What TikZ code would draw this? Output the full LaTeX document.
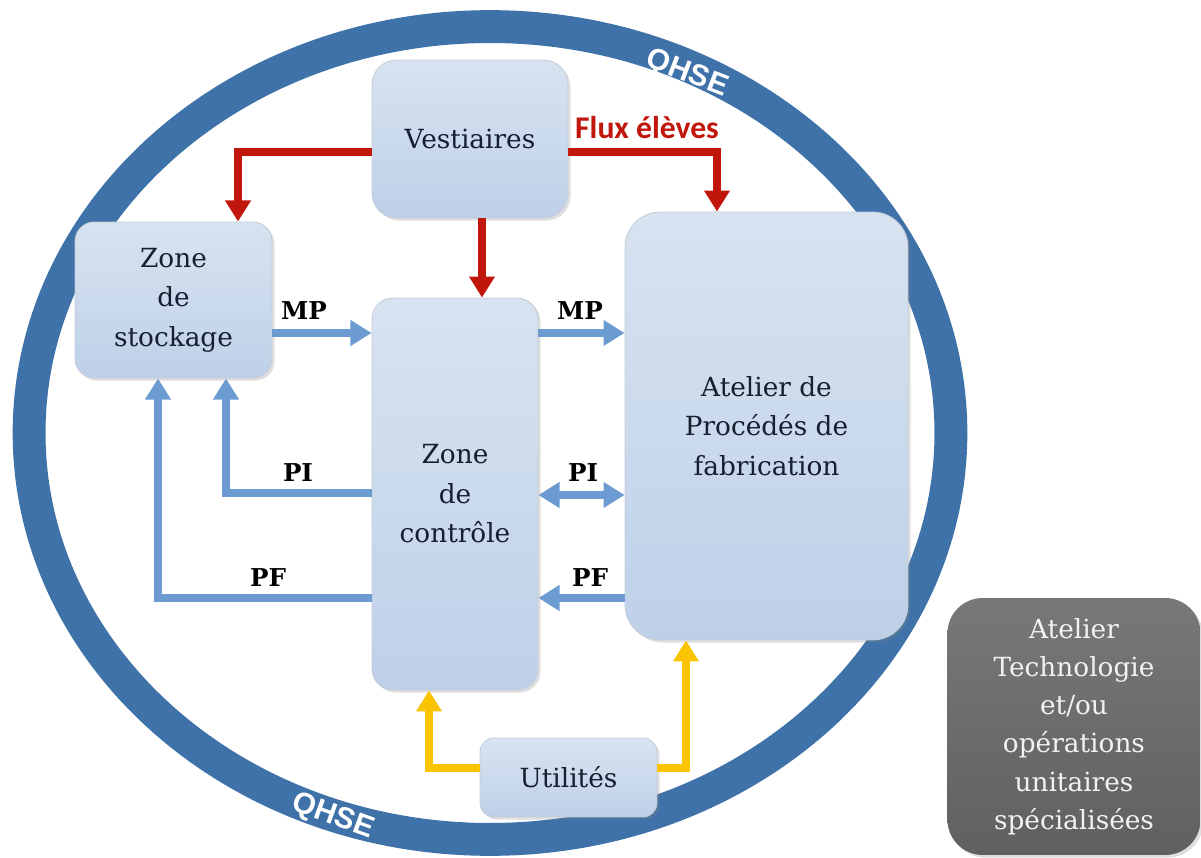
\documentclass[tikz,border=0pt]{standalone}
\usepackage{fontspec}
\setmainfont{DejaVu Serif}
\newfontfamily\carlito{Carlito}
\newfontfamily\lsans{Liberation Sans}
\usetikzlibrary{arrows.meta,shadows,calc}
\definecolor{ringblue}{RGB}{62,114,168}
\definecolor{fluxred}{RGB}{192,22,12}
\definecolor{mpblue}{RGB}{108,155,210}
\definecolor{utilyellow}{RGB}{250,196,0}
\definecolor{boxtop}{RGB}{216,227,241}
\definecolor{boxbot}{RGB}{190,208,232}
\definecolor{boxline}{RGB}{196,204,216}
\definecolor{textdark}{RGB}{22,30,48}
\definecolor{graytop}{RGB}{120,120,120}
\definecolor{graybot}{RGB}{96,96,96}
\definecolor{graytext}{RGB}{242,242,242}
\begin{document}
\begin{tikzpicture}[x=0.02cm,y=-0.02cm,
  bluebox/.style={draw=boxline, line width=0.5pt, top color=boxtop, bottom color=boxbot,
    drop shadow={opacity=0.25, shadow xshift=1.5pt, shadow yshift=-1.5pt},
    align=center, text=textdark, inner sep=0pt, font=\fontsize{15}{22.5}\selectfont},
  graybox/.style={draw=none, top color=graytop, bottom color=graybot,
    drop shadow={opacity=0.25, shadow xshift=1.5pt, shadow yshift=-1.5pt},
    align=center, text=graytext, inner sep=0pt, font=\fontsize{15}{21.8}\selectfont},
  redarr/.style={draw=fluxred, line width=4.5pt, -{Triangle[length=12pt,width=14pt]}},
  bluearr/.style={draw=mpblue, line width=4pt, -{Triangle[length=12pt,width=14pt]}},
  bluedbl/.style={draw=mpblue, line width=4pt, {Triangle[length=12pt,width=14pt]}-{Triangle[length=12pt,width=14pt]}},
  yelarr/.style={draw=utilyellow, line width=4.5pt, -{Triangle[length=12pt,width=14pt]}},
  flowlab/.style={font=\bfseries\fontsize{14}{14}\selectfont, text=black, inner sep=0pt},
  qhse/.style={font=\lsans\bfseries\fontsize{17}{17}\selectfont, text=white, inner sep=0pt}
]
\useasboundingbox (0,0) rectangle (1201,858);
% ring
\draw[ringblue, line width=18.7pt] (490,433) ellipse [x radius=9.22cm, y radius=8.13cm];
\node[qhse, rotate=-21] (q1) at (687,74) {QHSE};
\node[qhse, rotate=-20] (q2) at (333,817) {QHSE};

% boxes
\node[bluebox, rounded corners=14pt, minimum width=3.92cm, minimum height=3.16cm] (vest) at (470,139) {Vestiaires};
\node[bluebox, rounded corners=11pt, minimum width=3.94cm, minimum height=3.12cm] (stock) at (173.5,300) {Zone\\de\\stockage};
\node[bluebox, rounded corners=12pt, minimum width=3.32cm, minimum height=7.84cm] (ctrl) at (455,494) {Zone\\de\\contrôle};
\node[bluebox, rounded corners=20pt, minimum width=5.66cm, minimum height=8.56cm] (atel) at (766.5,426) {Atelier de\\Procédés de\\fabrication};
\node[bluebox, rounded corners=8pt, minimum width=3.54cm, minimum height=1.58cm] (util) at (568.5,777.5) {Utilités};
\node[graybox, rounded corners=20pt, minimum width=5.06cm, minimum height=5.14cm] (gray) at (1074,726.5) {Atelier\\Technologie\\et/ou\\opérations\\unitaires\\spécialisées};

% red arrows
\draw[redarr] (vest.west |- 0,152) -| (stock.north -| 238,0);
\draw[redarr] (vest.east |- 0,152) -| (atel.north -| 717,0);
\draw[redarr] (vest.south -| 482,0) -- (ctrl.north -| 482,0);
\node[font=\carlito\bfseries\fontsize{18}{18}\selectfont, text=fluxred, inner sep=0pt] (flux) at (647,128) {Flux élèves};

% blue arrows
\draw[bluearr] (stock.east |- 0,333) -- (ctrl.west |- 0,333);
\draw[bluearr] (ctrl.east |- 0,333) -- (atel.west |- 0,333);
\draw[bluearr] (ctrl.west |- 0,493) -| (stock.south -| 226,0);
\draw[bluearr] (ctrl.west |- 0,598) -| (stock.south -| 158,0);
\draw[bluedbl] (ctrl.east |- 0,495) -- (atel.west |- 0,495);
\draw[bluearr] (atel.west |- 0,598) -- (ctrl.east |- 0,598);
\node[flowlab] (mp1) at (304,311) {MP};
\node[flowlab] (mp2) at (580,311) {MP};
\node[flowlab] (pi1) at (298,473) {PI};
\node[flowlab] (pf1) at (268,578) {PF};
\node[flowlab] (pi2) at (583,473) {PI};
\node[flowlab] (pf2) at (590,578) {PF};

% yellow arrows
\draw[yelarr] (util.west |- 0,768) -| (ctrl.south -| 429,0);
\draw[yelarr] (util.east |- 0,768) -| (atel.south -| 686,0);
\end{tikzpicture}
\end{document}
